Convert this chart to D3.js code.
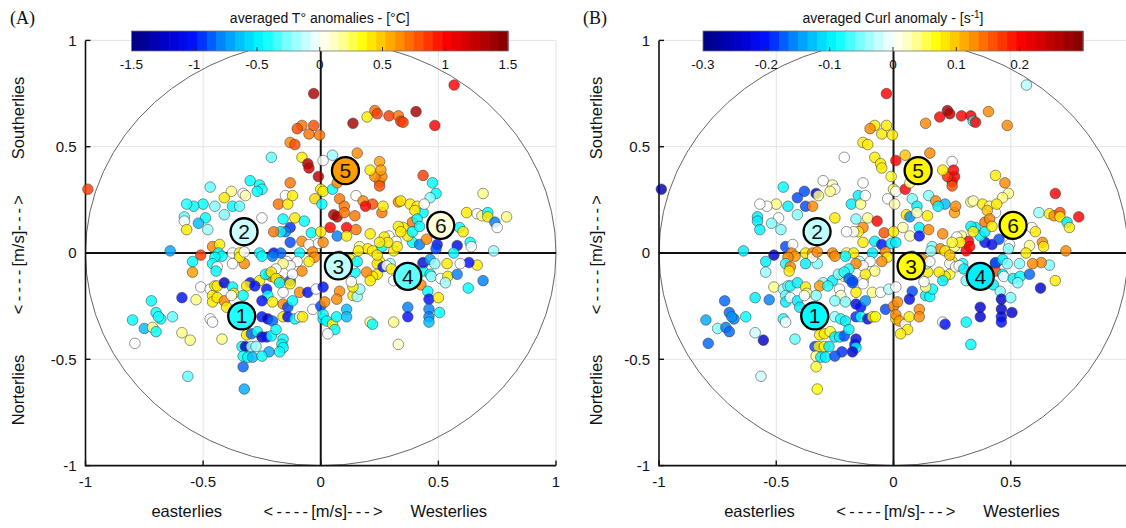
<!DOCTYPE html>
<html>
<head>
<meta charset="utf-8">
<script src="https://cdn.jsdelivr.net/npm/d3@7"></script>
<style>
  body { margin: 0; background: #fff; }
  svg { display: block; }
  text { font-family: "Liberation Sans", Arial, sans-serif; fill: #111; }
</style>
</head>
<body>
<svg id="chart" width="1126" height="528"></svg>
<script>
// each point: [u wind, v wind, T anomaly (°C), curl anomaly (s-1)]
const upperLeft = [
  [-0.03,0.75,1.3,0.2],[-0.08,0.60,0.7,0.08],[-0.10,0.585,0.8,0.13],[-0.05,0.56,0.7,0.08],
  [-0.03,0.60,0.8,0.08],[-0.13,0.52,0.65,0.08],[-0.11,0.51,0.8,0.08],[-0.21,0.45,-0.3,0],
  [-0.08,0.45,0.4,0.08],[-0.055,0.42,1.3,0.08],[-0.05,0.40,1.2,0.08],[-0.13,0.33,0.7,0],
  [-0.47,0.31,-0.3,-0.09],[-0.38,0.29,0.2,-0.18],[-0.41,0.26,0.4,-0.18],[-0.30,0.34,-0.45,0],
  [-0.26,0.32,-0.45,0.03],[-0.25,0.30,-0.4,0],[-0.27,0.29,-0.45,0.04],[-0.33,0.28,0,-0.24],
  [-0.32,0.27,0.15,0.04],[-0.50,0.23,-0.45,0.04],[-0.54,0.22,-0.45,0],[-0.57,0.23,-0.4,0],
  [-0.45,0.22,-0.25,-0.1],[-0.41,0.18,-0.25,-0.05],[-0.375,0.22,-0.45,-0.18],[-0.345,0.22,-0.3,0.13],
  [-0.58,0.17,-0.3,-0.1],[-0.58,0.15,0,-0.1],[-0.49,0.165,-0.45,0],[-0.52,0.14,-0.65,-0.05],
  [-0.57,0.11,0.4,-0.1],[-0.48,0.11,-0.2,-0.05],[-0.25,0.165,0,0.08],[-0.18,0.23,0.7,-0.1],
  [-0.15,0.27,0,-0.1],[-0.14,0.23,0.4,0.04],[-0.12,0.27,0.4,0],[-0.16,0.16,-0.45,-0.05],
  [-0.11,0.165,0.4,0.04],[-0.07,0.15,-0.45,0.2],[-0.13,0.12,-0.95,0.13],[-0.15,0.10,-0.8,0.08],
  [-0.17,0.10,-0.5,0],[-0.20,0.10,0.7,0],[-0.08,0.055,0.65,-0.1],[-0.04,0.095,-0.45,0.16],
  [-0.13,0.05,-0.9,0.08],[-0.05,0.04,0,-0.2],[-0.01,0.045,0,-0.1],[-0.64,0.01,-0.7,-0.1],
  [-0.99,0.30,0.85,-0.27],[-0.51,-0.01,0.85,-0.25],[-0.46,0.03,0.65,-0.18],[-0.43,0.04,0.4,0],
  [-0.435,0.0,-0.45,0.13],[-0.375,0.0,0,0.08],[-0.345,0.0,0.35,0.13],[-0.26,0.0,-0.45,0.13],
  [-0.20,0.0,-1.0,0.04],[-0.17,0.0,-0.85,0.08],[-0.09,0.0,-0.45,-0.1],[0.01,0.435,0,0.2]
];
const centre = [
  [-0.01,0.36,1.3,0.06],[0.0,0.30,0.4,0.05],[0.01,0.29,0.4,0],[0.05,0.30,-0.45,0.2],
  [0.07,0.33,0.65,0.04],[-0.025,0.255,0.45,0],[0.005,0.23,-0.45,0.03],[0.08,0.255,0.7,-0.05],
  [0.10,0.22,0.7,-0.1],[0.055,0.18,1.3,0.08],[0.07,0.17,1.3,-0.15],[0.04,0.12,1.0,0.03],
  [0.11,0.12,1.0,-0.1],[0.145,0.175,0.7,0.08],[0.15,0.11,0.7,0.13],[0.07,0.08,-0.8,0.03],
  [0.11,0.08,0.4,-0.2],[0.21,0.09,0.4,0.13],[0.15,0.27,0,-0.05],[0.18,0.245,0.65,0.13],
  [0.22,0.23,0.8,-0.13],[0.19,0.22,1.0,-0.1],[0.25,0.335,0.65,0.2],[0.26,0.36,0.65,0.2],
  [0.23,0.36,0.65,0.18],[0.26,0.19,0.7,0.12],[0.265,0.22,0.4,0.13],[0.33,0.24,0.65,0.04],
  [0.34,0.245,0.4,0.03],[0.38,0.23,0.4,0.08],[0.41,0.22,0.4,0.04],[0.435,0.19,-0.45,0],
  [0.35,0.12,0.4,-0.1],[0.39,0.145,0.7,0.14],[0.29,0.08,0,0.04],[0.32,0.055,0,0.2],
  [0.27,0.075,0.4,0],[0.39,0.05,-0.45,-0.2],[0.42,0.04,-0.8,-0.22],[0.165,0.03,0.2,-0.05],
  [0.2,0.02,0.4,0.13],[0.22,0.01,0.4,0.08],[0.26,0.03,-0.45,0.04],[0.31,0.01,0.4,0.2],
  [0.25,-0.04,0.4,0.08],[0.24,-0.05,0.4,0],[0.24,-0.10,0.4,0.06],[0.22,-0.11,0.4,0.08],
  [0.265,-0.065,-1.0,0],[0.295,-0.05,-0.2,-0.08],[0.435,-0.05,0.4,-0.18],[0.435,-0.085,-0.45,0.16],
  [-0.035,0.005,0.65,0.13],[-0.026,-0.02,0.65,0.08],[-0.05,-0.04,0.4,0.13],[-0.1,-0.04,0,0],
  [-0.08,-0.085,0.65,0.04],[-0.145,-0.04,0,-0.03],[-0.13,-0.06,0,0],[-0.16,-0.05,0.2,0.13],
  [-0.19,-0.075,0,-0.08],[-0.22,-0.1,-0.8,-0.1],[-0.21,-0.11,0.65,0.04],[-0.205,-0.015,-0.8,-0.09],
  [-0.25,-0.015,-0.45,0.13],[-0.325,-0.05,0.65,-0.05],[-0.345,-0.02,0.4,0],[-0.325,0.005,0,0.13],
  [-0.375,-0.05,0,-0.1],[-0.42,-0.015,-0.45,0.12],[-0.45,-0.02,-0.45,0.13],[-0.46,-0.05,-0.45,-0.08],
  [-0.44,-0.065,0,0.13],[-0.445,-0.085,-0.45,0.08],[-0.545,-0.04,-0.45,-0.1],[-0.545,-0.09,0.6,-0.04],
  [-0.3,-0.14,-1.0,-0.04],[-0.26,-0.13,0.4,-0.1],[-0.13,-0.13,-0.9,0],[-0.175,-0.13,0.65,-0.17],
  [-0.12,-0.1,0,0.08]
];
const upperRight = [
  [0.567,0.79,1.0,-0.03],[0.137,0.61,1.35,0.13],[0.197,0.64,0.4,0.2],[0.23,0.67,0.7,0.27],
  [0.24,0.655,0.85,0.25],[0.29,0.645,0.85,0.2],[0.33,0.645,0.7,0.22],[0.34,0.62,0.85,-0.08],
  [0.35,0.615,0.85,0.2],[0.405,0.665,1.35,0.13],[0.485,0.60,1.0,0.13],[-0.005,0.555,0.7,0.08],
  [0.155,0.47,0.65,0.13],[0.05,0.46,-0.2,0.1],[0.21,0.39,0.4,0.08],[0.25,0.43,0.6,0],
  [0.256,0.39,0.6,0.2],[0.25,0.315,0.8,0.16],[0.435,0.365,0.85,0.08],[0.475,0.33,-0.45,0.13],
  [0.49,0.28,-0.45,0.04],[0.465,0.26,-0.25,0.04],[0.4,0.2,0.4,0.1],[0.44,0.23,0,0.08],
  [0.69,0.28,0.2,0.2],[0.62,0.19,0.4,-0.04],[0.665,0.185,0,0.08],[0.685,0.175,0.2,0.13],
  [0.71,0.19,-0.45,0.16],[0.71,0.17,0.4,0.08],[0.79,0.17,0.2,0.2],[0.74,0.145,-0.8,-0.1],
  [0.75,0.12,0,0.08],[0.59,0.12,-0.45,0],[0.605,0.10,0.4,0.08],[0.58,0.035,-1.1,0.04],
  [0.635,0.05,-0.45,0.13],[0.64,0.03,0,0.08],[0.735,0.01,-0.2,0.13],[0.565,0.0,-0.45,0.08],
  [0.495,0.04,-1.0,0],[0.49,0.02,-0.9,-0.05],[0.45,0.065,0.65,-0.18],[0.37,0.08,0.4,-0.09],
  [0.39,0.1,-0.45,-0.1],[0.41,0.16,-0.45,0.13],[0.42,0.125,-0.45,0.08],[0.33,0.125,0.4,-0.1],
  [0.34,0.1,0.4,0.08],[0.285,0.05,0.4,0.08],[0.325,0.03,0.4,0.2],[0.25,0.05,0.4,0.06],
  [0.16,0.01,0.4,-0.04],[0.1,0.19,0.7,0.03],[0.01,0.05,0.65,-0.1],[0.0,0.1,0.4,0.08]
];
const lowerLeft = [
  [-0.51,-0.16,0,0.04],[-0.47,-0.17,0,-0.04],[-0.46,-0.2,0.4,-0.06],[-0.45,-0.155,0.4,-0.05],
  [-0.44,-0.155,0.4,-0.08],[-0.41,-0.14,-1.2,-0.1],[-0.375,-0.16,-0.45,0.08],[-0.37,-0.19,0.4,0.04],
  [-0.46,-0.23,0.4,-0.1],[-0.44,-0.21,0.4,0],[-0.41,-0.225,0.65,-0.1],[-0.4,-0.255,0.4,-0.1],
  [-0.38,-0.2,0,0],[-0.59,-0.21,-1.0,-0.1],[-0.53,-0.22,0.2,-0.16],[-0.72,-0.225,-0.45,-0.17],
  [-0.70,-0.28,-0.45,-0.17],[-0.68,-0.31,-0.45,-0.16],[-0.69,-0.30,-0.4,-0.15],[-0.63,-0.30,-0.3,-0.09],
  [-0.80,-0.315,-0.45,-0.14],[-0.75,-0.355,-0.65,-0.05],[-0.715,-0.35,0.2,-0.16],[-0.70,-0.37,-0.45,-0.17],
  [-0.79,-0.425,0,-0.17],[-0.59,-0.375,0.2,-0.02],[-0.555,-0.41,0.2,-0.24],[-0.47,-0.31,0,-0.08],
  [-0.46,-0.325,0,0],[-0.42,-0.405,0.2,-0.06],[-0.565,-0.58,-0.3,-0.02],[-0.33,-0.535,-0.85,0.06],
  [-0.325,-0.64,-0.7,0.07],[-0.315,-0.155,0.4,0.12],[-0.28,-0.155,-1.0,-0.08],[-0.33,-0.2,-0.45,-0.05],
  [-0.235,-0.1,-0.45,-0.05],[-0.21,-0.09,0.4,-0.08],[-0.19,-0.12,0.4,-0.17],[-0.23,-0.17,-1.0,0],
  [-0.225,-0.2,-0.45,0.02],[-0.25,-0.225,-1.0,-0.05],[-0.16,-0.185,0,0.08],[-0.175,-0.14,-0.45,-0.18],
  [-0.13,-0.145,0.4,0],[-0.205,-0.23,0.4,-0.05],[-0.16,-0.24,0.65,-0.22],[-0.14,-0.255,-0.9,-0.2],
  [-0.09,-0.185,0.65,0.04],[-0.055,-0.185,-1.0,0],[-0.02,-0.17,0,-0.03],[-0.12,-0.225,-0.45,-0.15],
  [-0.16,-0.30,0.4,-0.19],[-0.14,-0.30,-1.0,-0.09],[-0.11,-0.31,-0.45,-0.22],[-0.09,-0.30,0,0.08],
  [-0.077,-0.30,0.4,0.07],[-0.034,-0.265,0,-0.18],[0.0,-0.25,-0.9,0.13],[0.01,-0.31,-0.45,0.08],
  [-0.25,-0.3,-1.0,-0.04],[-0.225,-0.31,-1.2,-0.08],[-0.205,-0.32,-0.85,-0.1],[-0.315,-0.385,0.4,0.08],
  [-0.295,-0.38,-0.85,0.08],[-0.27,-0.37,-0.45,0.06],[-0.25,-0.395,-1.2,-0.1],[-0.23,-0.395,-1.0,-0.1],
  [-0.21,-0.39,-0.45,-0.18],[-0.19,-0.36,-0.45,-0.1],[-0.16,-0.405,-0.45,-0.22],[-0.165,-0.43,-0.45,-0.2],
  [-0.16,-0.445,-0.45,-0.1],[-0.175,-0.465,-0.45,-0.24],[-0.22,-0.465,-0.7,-0.19],[-0.335,-0.44,-0.45,-0.18],
  [-0.32,-0.44,-1.2,0.08],[-0.295,-0.44,-0.2,0.08],[-0.275,-0.44,-0.2,-0.1],[-0.33,-0.485,-0.45,0.04],
  [-0.31,-0.49,-0.45,-0.1],[-0.29,-0.49,-0.65,-0.1],[-0.25,-0.485,-0.45,-0.18]
];
const lowerRight = [
  [0.08,-0.18,0.65,-0.18],[0.068,-0.217,0.65,-0.22],[0.01,-0.16,-1.0,0],[0.017,-0.23,0.65,0.13],
  [0.01,-0.29,-0.45,0.13],[0.025,-0.32,-0.45,0.12],[0.05,-0.335,0.4,0],[0.06,-0.36,-0.45,0.08],
  [0.03,-0.38,0,0.08],[0.067,-0.3,-0.45,0.08],[0.11,-0.265,-0.65,0.13],[0.11,-0.3,-0.65,0.13],
  [0.137,-0.2,0.4,-0.1],[0.155,-0.205,-0.2,-0.09],[0.166,-0.17,-0.2,-0.09],[0.137,-0.16,0.4,0.04],
  [0.146,-0.09,-0.45,0.08],[0.14,-0.05,0,-0.04],[0.195,-0.09,0.65,0.08],[0.21,-0.13,0.4,-0.1],
  [0.21,-0.325,0.2,0],[0.22,-0.335,-0.45,-0.2],[0.31,-0.325,0.2,-0.09],[0.33,-0.43,0.1,-0.09],
  [0.37,-0.255,-0.8,-0.24],[0.37,-0.3,-1.0,-0.24],[0.31,-0.13,0,-0.05],[0.28,-0.06,0,0],
  [0.426,-0.15,0.65,-0.1],[0.435,-0.045,-1.0,-0.18],[0.465,-0.03,-0.7,-0.1],[0.465,-0.1,-0.45,-0.1],
  [0.47,-0.11,-0.2,0],[0.485,-0.05,-0.2,-0.05],[0.51,-0.12,0,-0.1],[0.537,-0.05,0.4,-0.05],
  [0.54,-0.11,0.4,-0.09],[0.53,-0.14,-0.2,-0.05],[0.455,-0.18,-0.45,-0.05],[0.46,-0.217,-1.0,-0.24],
  [0.5,-0.21,0.4,-0.05],[0.505,-0.28,-0.45,-0.24],[0.46,-0.264,-0.8,-0.24],[0.46,-0.3,-0.8,-0.22],
  [0.46,-0.325,-0.65,-0.2],[0.58,-0.1,-0.8,-0.17],[0.627,-0.165,-0.45,-0.24],[0.665,-0.057,0.4,-0.05],
  [0.63,-0.045,-1.0,0.13],[0.69,-0.13,-0.8,0.08],[0.593,-0.05,0,0.13],[0.3,-0.075,0.4,-0.1],
  [0.13,-0.135,0,0],[0.08,-0.015,0.65,-0.1],[0.125,-0.03,0.4,0.13],[0.155,-0.04,-0.45,0],
  [0.24,-0.01,0.4,0.1]
];

const clusterIds = [1, 2, 3, 4, 5, 6];
const clusterU = [-0.336, -0.326, 0.075, 0.37, 0.105, 0.51];
const clusterV = [-0.296, 0.10, -0.061, -0.11, 0.387, 0.13];
const clusterTemp = [-0.4, -0.1, -0.12, -0.3, 0.6, 0.07];
const clusterCurl = [-0.09, -0.025, 0.07, -0.1, 0.075, 0.07];

const axisTicks = [-1, -0.5, 0, 0.5, 1];
const gridTicks = [-0.5, 0.5, 1];
const tempTicks = [-1.5, -1, -0.5, 0, 0.5, 1, 1.5];
const curlTicks = [-0.3, -0.2, -0.1, 0, 0.1, 0.2];

const allPoints = [...upperLeft, ...centre, ...upperRight, ...lowerLeft, ...lowerRight];

// blue-white-red colormap, stops as fraction of the bar half range
const mapStops = [-1, -0.8, -0.667, -0.533, -0.4, -0.3, -0.167, 0, 0.1, 0.233, 0.367, 0.5, 0.667, 0.833, 1];
const mapColors = ["#000080", "#0000d0", "#0010ff", "#0080ff", "#00d0ff", "#00ffff", "#80ffff", "#ffffff",
                   "#ffffb0", "#ffff00", "#ffb000", "#ff6000", "#ff0000", "#c00000", "#800000"];

const W = 1126;
const svg = d3.select("#chart");

const panels = [
  { left: 85.5, right: 556, tag: "(A)", tagX: 10, title: "averaged T\u00b0 anomalies - [\u00b0C]", sup: null,
    max: 1.5, ticks: tempTicks, idx: 2, clusterVals: clusterTemp, barX0: 131.5, barX1: 508, yLabX: 24 },
  { left: 659, right: 1128, tag: "(B)", tagX: 583, title: "averaged Curl anomaly - [s", sup: "-1",
    max: 0.3, ticks: curlTicks, idx: 3, clusterVals: clusterCurl, barX0: 703, barX1: 1083, yLabX: 602 }
];

const y = d3.scaleLinear().domain([-1, 1]).range([465.6, 40.4]);

// "<----[m/s]--->" with the dashes drawn a little wider, as in the figure
function arrowLabel(sel) {
  sel.append("tspan").style("letter-spacing", "3.2px").text("<----");
  sel.append("tspan").text("[m/s]");
  sel.append("tspan").style("letter-spacing", "3.2px").text("--->");
}

panels.forEach(p => {
  const x = d3.scaleLinear().domain([-1, 1]).range([p.left, p.right]);
  const colour = d3.scaleLinear().domain(mapStops.map(s => s * p.max)).range(mapColors).clamp(true);
  const g = svg.append("g");

  // grid
  g.selectAll("line.gx").data(gridTicks).join("line")
    .attr("x1", d => x(d)).attr("x2", d => x(d)).attr("y1", y(-1)).attr("y2", y(1))
    .attr("stroke", "#e4e4e4").attr("stroke-width", 1);
  g.selectAll("line.gy").data(gridTicks).join("line")
    .attr("y1", d => y(d)).attr("y2", d => y(d)).attr("x1", x(-1)).attr("x2", x(1))
    .attr("stroke", "#e4e4e4").attr("stroke-width", 1);

  // unit circle
  g.append("ellipse")
    .attr("cx", x(0)).attr("cy", y(0))
    .attr("rx", x(1) - x(0)).attr("ry", y(-1) - y(0))
    .attr("fill", "none").attr("stroke", "#666").attr("stroke-width", 1);

  // zero lines
  g.append("line").attr("x1", x(0)).attr("x2", x(0)).attr("y1", y(-1)).attr("y2", y(1))
    .attr("stroke", "#111").attr("stroke-width", 2);
  g.append("line").attr("x1", x(-1)).attr("x2", x(1)).attr("y1", y(0)).attr("y2", y(0))
    .attr("stroke", "#111").attr("stroke-width", 2);

  // left and bottom axes with inward ticks
  g.append("path")
    .attr("d", `M${x(-1)},${y(1)}V${y(-1)}H${x(1)}`)
    .attr("fill", "none").attr("stroke", "#111").attr("stroke-width", 1.6);
  g.selectAll("line.ty").data(axisTicks).join("line")
    .attr("x1", x(-1)).attr("x2", x(-1) + 5).attr("y1", d => y(d)).attr("y2", d => y(d))
    .attr("stroke", "#111").attr("stroke-width", 1.4);
  g.selectAll("line.tx").data(axisTicks).join("line")
    .attr("x1", d => x(d)).attr("x2", d => x(d)).attr("y1", y(-1)).attr("y2", y(-1) - 5)
    .attr("stroke", "#111").attr("stroke-width", 1.4);

  g.selectAll("text.yl").data(axisTicks).join("text")
    .attr("x", x(-1) - 9).attr("y", d => y(d)).attr("dy", "0.36em")
    .attr("text-anchor", "end").style("font-size", "15px").text(d => d);
  // the figure is cropped on the right, so the last label of panel B is not shown
  g.selectAll("text.xl").data(axisTicks.filter(d => x(d) < W - 12)).join("text")
    .attr("x", d => x(d)).attr("y", y(-1) + 21)
    .attr("text-anchor", "middle").style("font-size", "15px").text(d => d);

  // axis titles
  const xc = x(0);
  const xt = g.append("g").style("font-size", "16.5px");
  xt.append("text").attr("x", xc - 134).attr("y", 517).attr("text-anchor", "middle").text("easterlies");
  xt.append("text").attr("x", xc + 4).attr("y", 517).attr("text-anchor", "middle").call(arrowLabel);
  xt.append("text").attr("x", xc + 128).attr("y", 517).attr("text-anchor", "middle").text("Westerlies");

  const yt = g.append("g").style("font-size", "16.5px")
    .attr("transform", `translate(${p.yLabX},${y(0)}) rotate(-90)`);
  yt.append("text").attr("x", -137).attr("text-anchor", "middle").text("Norterlies");
  yt.append("text").attr("x", 0).attr("text-anchor", "middle").call(arrowLabel);
  yt.append("text").attr("x", 135).attr("text-anchor", "middle").text("Southerlies");

  // points
  g.selectAll("circle.pt").data(allPoints).join("circle")
    .attr("cx", d => x(d[0])).attr("cy", d => y(d[1])).attr("r", 5.3)
    .attr("fill", d => colour(d[p.idx])).attr("fill-opacity", 0.82)
    .attr("stroke", "#333").attr("stroke-opacity", 0.65).attr("stroke-width", 0.8);

  // cluster labels
  const cl = g.selectAll("g.cluster").data(clusterIds).join("g")
    .attr("transform", (d, i) => `translate(${x(clusterU[i])},${y(clusterV[i])})`);
  cl.append("circle").attr("r", 13.5)
    .attr("fill", (d, i) => colour(p.clusterVals[i]))
    .attr("stroke", "#000").attr("stroke-width", 2.3);
  cl.append("text").attr("text-anchor", "middle").attr("dy", "0.36em")
    .style("font-size", "21px").text(d => d);

  // colour bar
  const cb = d3.scaleLinear().domain([-p.max, p.max]).range([p.barX0, p.barX1]);
  const nBands = 40;
  const step = 2 * p.max / nBands;
  const bands = d3.range(nBands).map(i => -p.max + i * step);
  const bar = g.append("g");
  bar.selectAll("rect").data(bands).join("rect")
    .attr("x", d => cb(d)).attr("width", cb(step) - cb(0) + 0.6)
    .attr("y", 31).attr("height", 20)
    .attr("fill", d => colour(d + step / 2));
  bar.append("rect").attr("x", p.barX0).attr("y", 31).attr("width", p.barX1 - p.barX0).attr("height", 20)
    .attr("fill", "none").attr("stroke", "#777").attr("stroke-width", 0.8);
  bar.selectAll("line").data(p.ticks.filter(t => Math.abs(t) < p.max - 1e-9)).join("line")
    .attr("x1", d => cb(d)).attr("x2", d => cb(d)).attr("y1", 47).attr("y2", 51)
    .attr("stroke", "#333").attr("stroke-width", 1);
  bar.selectAll("text").data(p.ticks).join("text")
    .attr("x", d => cb(d)).attr("y", 69).attr("text-anchor", "middle")
    .style("font-size", "13.5px").text(d => d);

  const title = g.append("text").attr("x", (p.barX0 + p.barX1) / 2).attr("y", 23)
    .attr("text-anchor", "middle").style("font-size", "14px").text(p.title);
  if (p.sup) {
    title.append("tspan").attr("dy", -5).style("font-size", "10px").text(p.sup);
    title.append("tspan").attr("dy", 5).text("]");
  }

  g.append("text").attr("x", p.tagX).attr("y", 24)
    .style("font-family", "'Liberation Serif', 'Times New Roman', serif").style("font-size", "18px")
    .text(p.tag);
});
</script>
</body>
</html>
